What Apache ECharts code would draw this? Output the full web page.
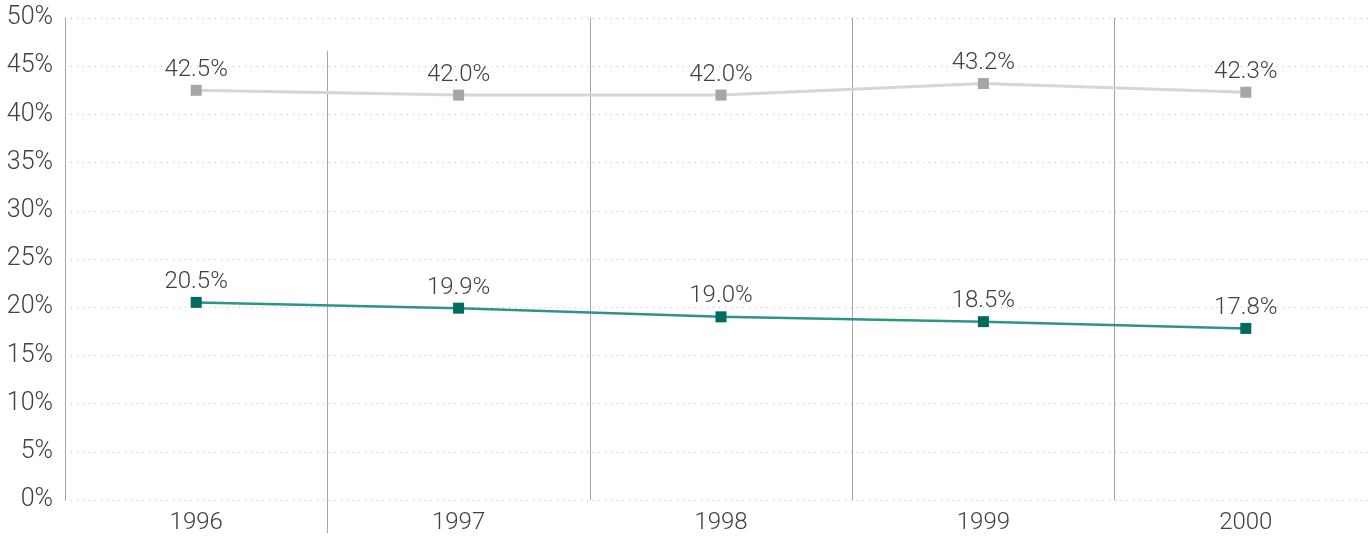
<!DOCTYPE html>
<html><head><meta charset="utf-8">
<script src="https://cdn.jsdelivr.net/npm/echarts@6/dist/echarts.min.js"></script>
<style>html,body{margin:0;padding:0;background:#fff;overflow:hidden;width:1370px;height:538px}#c{width:1380px;height:538px}</style>
</head><body><div id="c"></div>
<script>
const categories = ['1996', '1997', '1998', '1999', '2000'];
const seriesGray = [42.5, 42.0, 42.0, 43.2, 42.3];
const seriesGreen = [20.5, 19.9, 19.0, 18.5, 17.8];
const yTicks = { min: 0, max: 50, interval: 5 };

const FONT = 'Roboto, sans-serif';
const chart = echarts.init(document.getElementById('c'), null, { renderer: 'canvas' });
const labelStyle = {
  show: true, position: 'top', distance: 3,
  formatter: p => p.value.toFixed(1) + '%',
  fontFamily: FONT, fontSize: 24, fontWeight: 300, color: '#404040'
};
chart.setOption({
  animation: false,
  backgroundColor: '#fff',
  grid: { left: 65, width: 1312, top: 18, bottom: 38, containLabel: false },
  xAxis: {
    type: 'category', data: categories, boundaryGap: true,
    axisLine: { show: false },
    axisTick: { show: false },
    axisLabel: { fontFamily: FONT, fontSize: 24, fontWeight: 300, color: '#404040', margin: 11 },
    splitLine: { show: true, interval: i => i !== 1, lineStyle: { color: '#a6a6a6', width: 1 } }
  },
  yAxis: {
    type: 'value', min: yTicks.min, max: yTicks.max, interval: yTicks.interval,
    axisLine: { show: true, lineStyle: { color: '#a6a6a6', width: 1 } },
    axisTick: { show: false },
    axisLabel: { formatter: '{value}%', fontFamily: FONT, fontSize: 25, fontWeight: 300, color: '#404040', margin: 12 },
    splitLine: { show: true, lineStyle: { color: '#bfbfbf', width: 1, type: [1, 5] } }
  },
  series: [
    {
      type: 'line', data: seriesGray, symbol: 'rect', symbolSize: 11,
      itemStyle: { color: '#a6a6a6' },
      lineStyle: { color: '#d6d6d6', width: 3 },
      label: labelStyle, z: 3
    },
    {
      type: 'line', data: seriesGreen, symbol: 'rect', symbolSize: 11,
      itemStyle: { color: '#006b5f' },
      lineStyle: { color: '#2e9488', width: 2.5 },
      label: labelStyle, z: 3
    }
  ]
});
// separator between the first two categories: starts lower and runs below the axis
const xa = chart.convertToPixel({ xAxisIndex: 0 }, 0);
const xb = chart.convertToPixel({ xAxisIndex: 0 }, 1);
const sx = Math.round((xa + xb) / 2) + 0.5;
const yTop = chart.convertToPixel({ yAxisIndex: 0 }, 46.6);
const yBase = chart.convertToPixel({ yAxisIndex: 0 }, 0);
chart.setOption({
  graphic: [{
    type: 'line', silent: true, z: 1,
    shape: { x1: sx, y1: yTop, x2: sx, y2: yBase + 33 },
    style: { stroke: '#a6a6a6', lineWidth: 1 }
  }]
});
</script></body></html>
